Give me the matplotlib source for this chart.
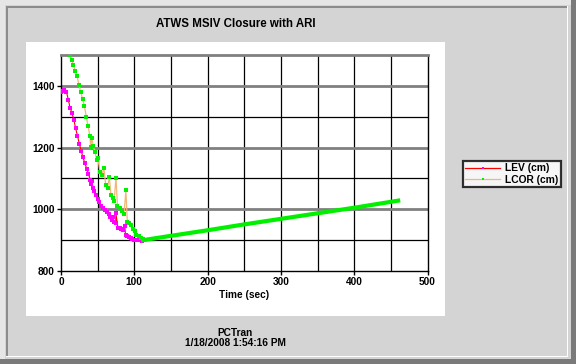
import matplotlib
matplotlib.use("Agg")
import matplotlib.pyplot as plt
from matplotlib.patches import Rectangle
from matplotlib.lines import Line2D

# ---- data ----
lev_t = [0, 2.5, 4.5, 7.5, 10, 12.5, 15, 17.5, 20, 22.5, 25, 27.5, 30, 32.5, 35, 37.5, 40, 41, 42,
         43.5, 45, 47.5, 50, 52.5, 55, 57.5, 60, 62.5, 65, 67.5, 69, 70.5, 72.5, 74.5, 75, 77.5, 80,
         82.5, 85, 87, 88, 90, 92.5, 95, 97.5, 100, 102.5, 105, 107.5, 110, 112]
lev_v = [1380, 1384, 1387, 1380, 1355, 1328, 1312, 1290, 1262, 1238, 1212, 1190, 1168, 1150, 1132,
         1114, 1096, 1082, 1092, 1070, 1060, 1045, 1032, 1022, 1010, 1004, 998, 990, 984, 975, 966,
         975, 958, 955, 987, 940, 938, 935, 932, 946, 918, 915, 911, 908, 905, 902, 900, 900, 899,
         898, 900]

lcor_t = [12, 14.5, 17, 19.5, 22, 24.5, 27, 29.5, 32, 34.5, 37, 39.5, 40.5, 42, 44, 46.5, 48.5,
          50.5, 53, 56, 58.5, 61, 63.5, 66, 68, 70.5, 72.5, 75, 77, 80, 83, 86, 88.5, 90.5, 92.5,
          95, 98, 100.5, 103, 106, 109, 112]
lcor_v = [1500, 1485, 1469, 1448, 1431, 1403, 1380, 1356, 1334, 1300, 1270, 1236, 1201, 1232, 1204,
          1187, 1160, 1165, 1122, 1112, 1135, 1079, 1068, 1106, 1047, 1038, 1027, 1103, 1011, 1003,
          995, 985, 1061, 960, 955, 950, 936, 930, 917, 912, 906, 903]

tail_t = [112, 150, 200, 250, 300, 350, 400, 460]
tail_v = [900, 914, 932, 951, 969, 987, 1005, 1028]

title = "ATWS MSIV Closure with ARI"
xlabel = "Time (sec)"
series_names = ["LEV (cm)", "LCOR (cm)"]
footer = "PCTran\n1/18/2008 1:54:16 PM"
xticks = [0, 100, 200, 300, 400, 500]
yticks = [800, 1000, 1200, 1400]

# ---- figure ----
W, H = 576, 364
plt.rcParams['font.family'] = ['Liberation Sans', 'DejaVu Sans']
plt.rcParams['font.weight'] = 'bold'
fig = plt.figure(figsize=(W / 100, H / 100), dpi=100)
bg = '#D4D4D4'
fig.patch.set_facecolor(bg)

def prect(x, y, w, h, color):
    # pixel rect, y from top
    fig.patches.append(Rectangle((x / W, 1 - (y + h) / H), w / W, h / H,
                                 transform=fig.transFigure, facecolor=color,
                                 edgecolor='none', zorder=-5, antialiased=False))

# frame
prect(0, 0, W, 5, '#E6E6E6')
prect(0, 0, 5, H, '#E6E6E6')
prect(6, 6, 562, 2, '#8C8C8C')
prect(6, 6, 2, 350, '#8C8C8C')
prect(567, 6, 1, 351, '#FFFFFF')
prect(6, 356, 562, 1, '#FFFFFF')
prect(571, 0, 5, H, '#7A7A7A')
prect(0, 359, W, 5, '#7A7A7A')
# white panel
prect(26, 42, 419, 274, '#FFFFFF')

left, right = 61 / W, 427.5 / W
bottom, top = 1 - 271 / H, 1 - 55 / H
ax = fig.add_axes([left, bottom, right - left, top - bottom])
ax.set_zorder(3)
ax.set_facecolor('white')
ax.set_xlim(0, 500)
ax.set_ylim(800, 1500)

# grid
for x in range(50, 500, 50):
    ax.axvline(x, color='black', lw=0.9, zorder=1)
for y in range(900, 1500, 100):
    if (y // 100) % 2 == 0:
        ax.axhline(y, color='#808080', lw=2.0, zorder=1)
    else:
        ax.axhline(y, color='black', lw=0.9, zorder=1)

for s in ['left', 'bottom', 'right']:
    ax.spines[s].set_color('black')
    ax.spines[s].set_linewidth(1.0)
ax.spines['top'].set_color('#808080')
ax.spines['top'].set_linewidth(2.0)

ax.set_xticks(xticks)
ax.set_yticks(yticks)
ax.tick_params(axis='both', labelsize=7.3, length=3, width=1, pad=1.5, colors='black')
for lab in ax.get_xticklabels() + ax.get_yticklabels():
    lab.set_fontweight('bold')
ax.set_xlabel(xlabel, fontsize=7.3, fontweight='bold', labelpad=2)

# series
lev_all_t = lev_t + tail_t[1:]
lev_all_v = lev_v + tail_v[1:]
ax.plot(lev_all_t, lev_all_v, color='#FF0000', lw=0.8,
        marker='s', ms=2.5, mew=0, mfc='#FF00FF', markevery=list(range(len(lev_t))),
        zorder=3)
ax.plot(lcor_t, lcor_v, color='#F0B878', lw=0.9,
        marker='s', ms=2.6, mew=0, mfc='#00F000', zorder=4)
ax.plot(tail_t, tail_v, color='#00F000', lw=3.0, solid_capstyle='projecting', zorder=5)

# title and footer
fig.text(236 / W, 1 - 24 / H, title, ha='center', va='center', fontsize=8.3, fontweight='bold')
fig.text(235 / W, 1 - 338 / H, footer, ha='center', va='center', fontsize=7.3,
         fontweight='bold', linespacing=1.0)

# legend
handles = [
    Line2D([], [], color='#FF0000', lw=0.9, marker='s', ms=1.9, mew=0, mfc='#FF00FF'),
    Line2D([], [], color='#F0B878', lw=0.9, marker='s', ms=2.1, mew=0, mfc='#00F000'),
]
leg = fig.legend(handles, series_names, loc='center', bbox_to_anchor=(512 / W, 1 - 174 / H),
                 fontsize=7.4, frameon=True, fancybox=False, handlelength=3.4,
                 handletextpad=0.5, borderpad=0.25, labelspacing=0.15, borderaxespad=0)
leg.get_frame().set_edgecolor('black')
leg.get_frame().set_linewidth(1.6)
leg.get_frame().set_facecolor('white')
for t in leg.get_texts():
    t.set_fontweight('bold')

fig.savefig('out.png', dpi=100, facecolor=bg)
